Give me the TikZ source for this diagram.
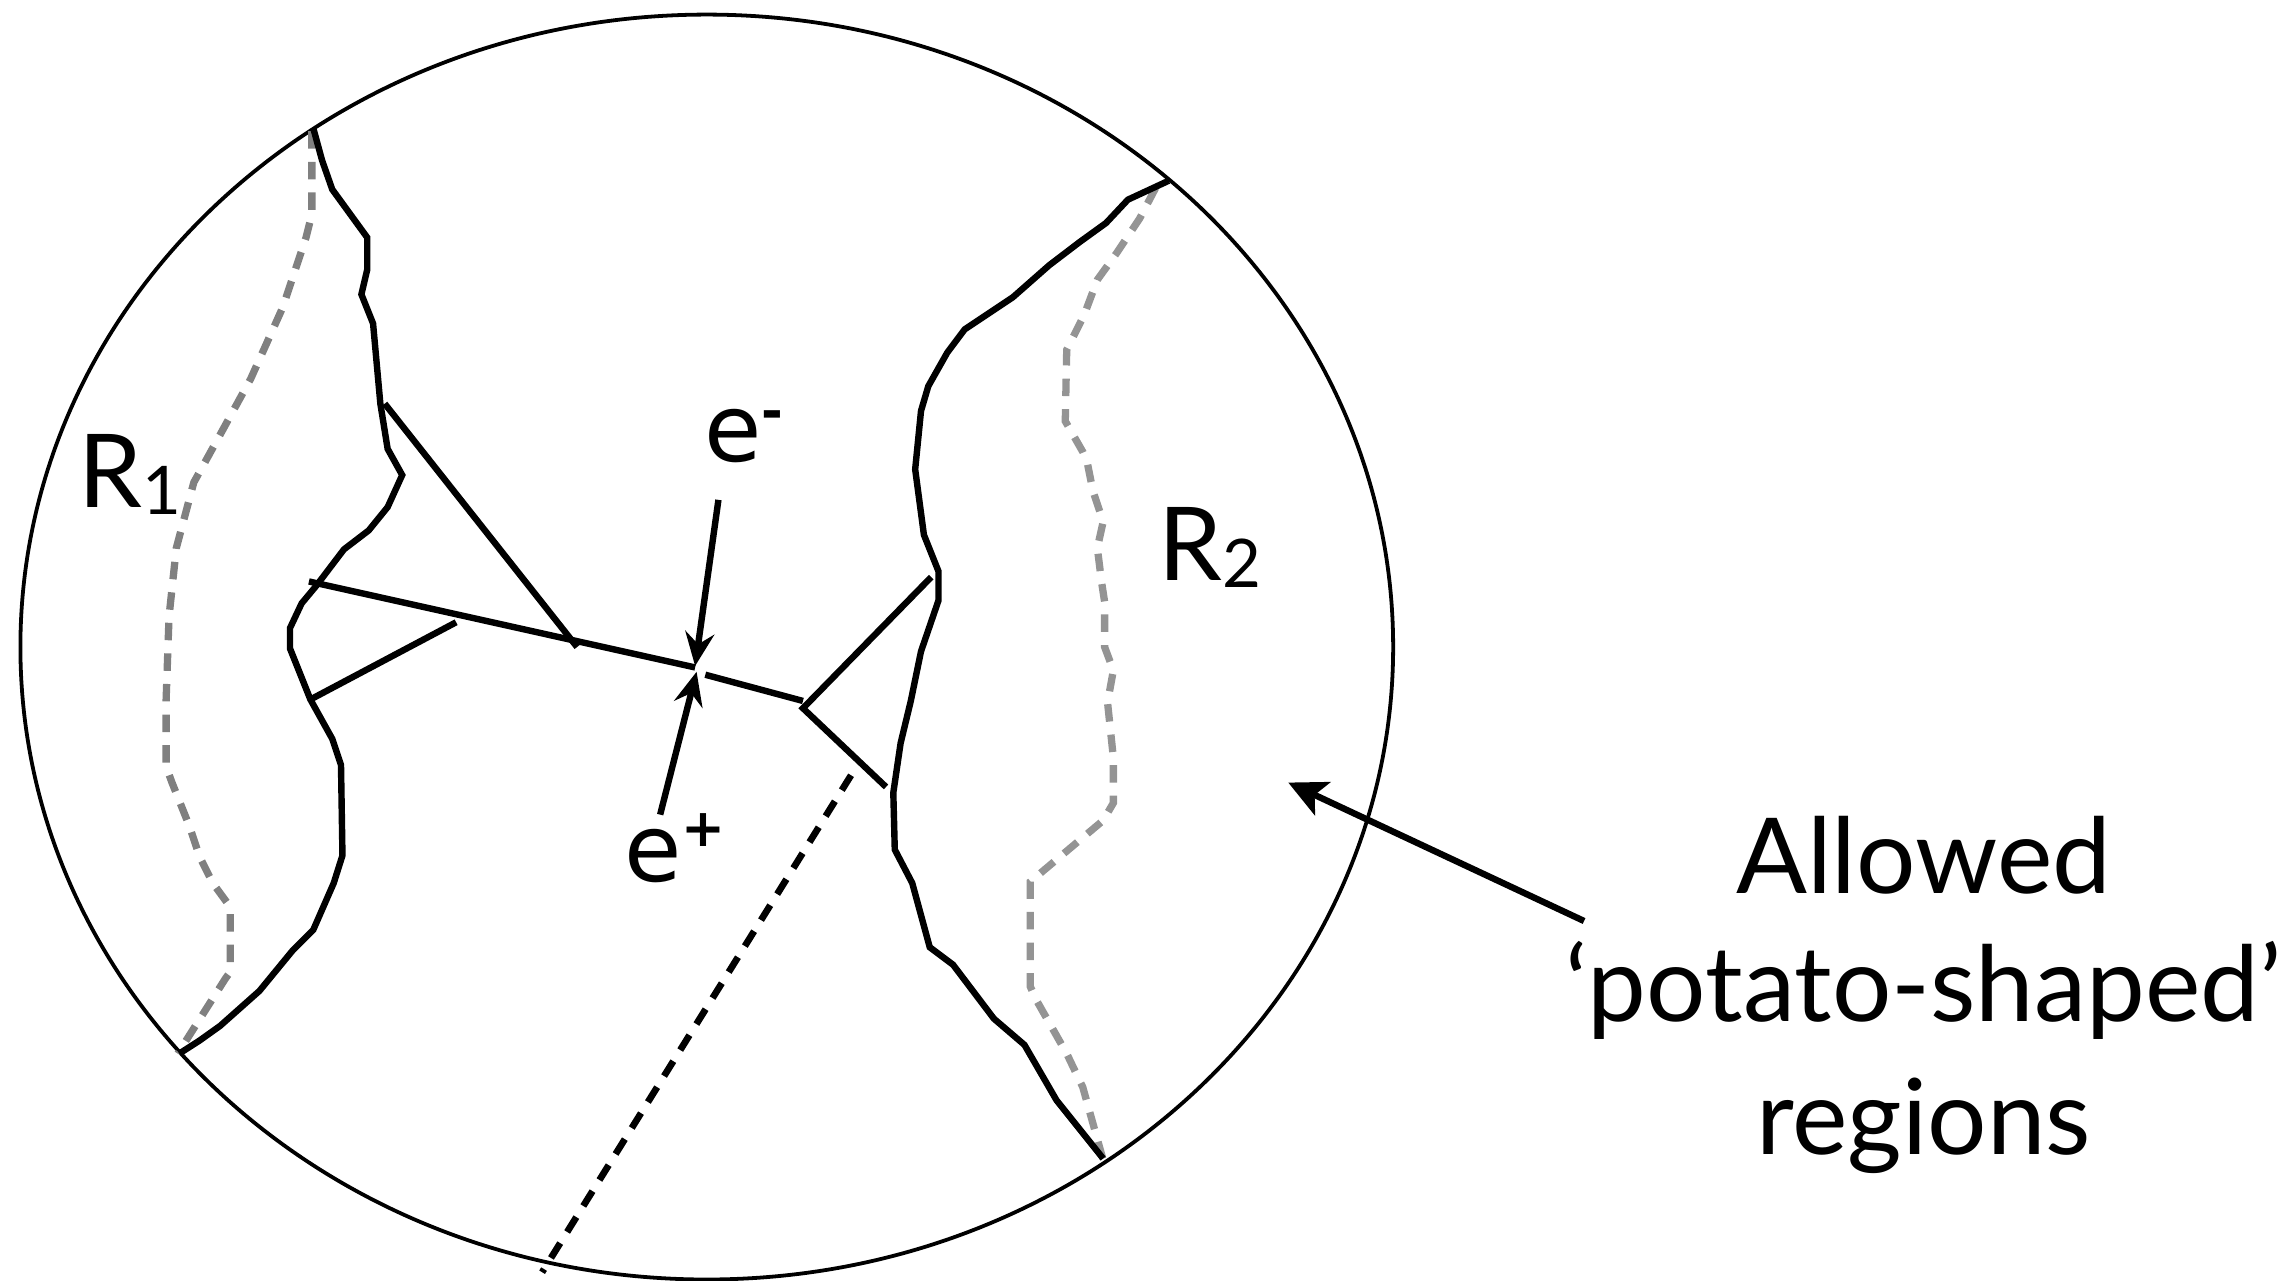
\documentclass[tikz,border=0pt]{standalone}
\usepackage{fontspec}
\setmainfont{Lato}
\newfontfamily\efont{DejaVu Sans}
\usetikzlibrary{arrows.meta}
\begin{document}
\begin{tikzpicture}[x=1pt,y=-1pt,
  rim/.style={line width=2.6pt},
  wall/.style={line width=4.4pt, line join=miter},
  shadeA/.style={line width=5pt, draw=black!50, dash pattern=on 12pt off 9pt},
  shadeB/.style={line width=5pt, draw=black!42, dash pattern=on 12pt off 9pt},
  track/.style={line width=4.4pt},
  ghost/.style={line width=4.6pt, dash pattern=on 12pt off 9pt},
  ptr/.style={line width=4.4pt, -{Stealth[length=23pt,width=20pt,inset=8pt]}},
  bigptr/.style={line width=4.4pt, -{Stealth[length=26pt,width=25pt,inset=6pt]}},
  lbl/.style={inner sep=0pt, anchor=base west},
  captext/.style={inner sep=0pt, anchor=base, font=\fontsize{72}{72}\selectfont}]
\useasboundingbox (0,0) rectangle (1568,879);

% outer region
\draw[rim] (485,444) ellipse [x radius=471pt, y radius=434pt];

% junction points
\coordinate (ja) at (261,277);
\coordinate (jb) at (217,402);
\coordinate (jc) at (213,480);

% R1 grey dashed limit
\draw[shadeA] (214,90) -- (214,147) -- (210,163) -- (194,211) -- (172,260) -- (149,302) -- (133,331) -- (121,376) -- (116,423) -- (114,480) -- (114,526) -- (118,537) -- (130,567) -- (137,588) -- (146,606) -- (157,621) -- (158,624) -- (158,667) -- (155,671) -- (122,723);

% R2 grey dashed limit
\draw[shadeB] (793,129) -- (782,150) -- (766,174) -- (753,192) -- (744,216) -- (732,240) -- (731,289) -- (743,310) -- (746,317) -- (750,337) -- (757,358) -- (753,376) -- (756,400) -- (758,413) -- (758,444) -- (764,460) -- (760,482) -- (764,520) -- (764,551) -- (757,563) -- (707,605) -- (707,677) -- (711,686) -- (732,723) -- (743,746) -- (757,796);

% R1 boundary
\draw[wall] (215,88) -- (221,110) -- (228,130) -- (252,163) -- (252,185) -- (248,202) -- (256,222) -- (ja) -- (266,308) -- (276,326) -- (266,348) -- (253,364) -- (236,377) -- (jb) -- (207,414) -- (199,431) -- (199,445) -- (jc) -- (228,507) -- (234,525) -- (235,587) -- (229,606) -- (215,638) -- (201,652) -- (178,680) -- (151,704) -- (137,714) -- (123,723);

% R2 boundary
\draw[wall] (802,124) -- (774,137) -- (759,153) -- (741,166) -- (720,182) -- (695,204) -- (662,226) -- (650,242) -- (637,265) -- (632,282) -- (628,322) -- (634,367) -- (644,392) -- (644,412) -- (632,447) -- (625,481) -- (618,510) -- (613,544) -- (614,583) -- (626,606) -- (638,650) -- (654,662) -- (682,699) -- (703,717) -- (725,755) -- (757,795);

% interaction lines
\coordinate (m0) at (212,399);
\coordinate (x1) at (477,458);
\coordinate (x2) at (484,463);
\coordinate (v0) at (551,481);
\coordinate (vv) at (551,486);
\coordinate (vu) at (639,396);
\coordinate (vl) at (608,540);
\coordinate (d0) at (264,277);
\coordinate (d1) at (396,444);
\coordinate (s1) at (313,427);
\coordinate (g0) at (584,532);
\coordinate (g1) at (372,873);
\coordinate (em) at (493,343);
\coordinate (ep) at (453,559);
\coordinate (tm) at (477,457);
\coordinate (tp) at (478,461);

\draw[track] (m0) -- (x1);
\draw[track] (d0) -- (d1);
\draw[track] (jc) -- (s1);
\draw[track] (x2) -- (v0);
\draw[track] (vu) -- (vv) -- (vl);
\draw[ghost] (g0) -- (g1);
\draw[ptr] (em) -- (tm);
\draw[ptr] (ep) -- (tp);

% labels
\node[lbl, font=\fontsize{70}{70}\selectfont] (r1) at (54,348) {R\raisebox{-5pt}{\fontsize{46}{46}\selectfont 1}};
\node[lbl, font=\fontsize{70}{70}\selectfont] (r2) at (795,398) {R\raisebox{-5pt}{\fontsize{46}{46}\selectfont 2}};
\node[lbl, font=\efont\fontsize{64}{64}\selectfont] (eminus) at (483,317) {e\raisebox{22pt}{\bfseries\fontsize{36}{36}\selectfont -}};
\node[lbl, font=\efont\fontsize{64}{64}\selectfont] (eplus) at (428,605) {e\raisebox{24pt}{\bfseries\fontsize{36}{36}\selectfont +}};

% caption
\node[captext] (t1) at (1320,613) {Allowed};
\node[captext] (t2) at (1320,701) {‘potato-shaped’};
\node[captext] (t3) at (1320,792) {regions};
\coordinate (atail) at (1087,632);
\coordinate (atip) at (884,537);
\draw[bigptr] (atail) -- (atip);
\end{tikzpicture}
\end{document}
